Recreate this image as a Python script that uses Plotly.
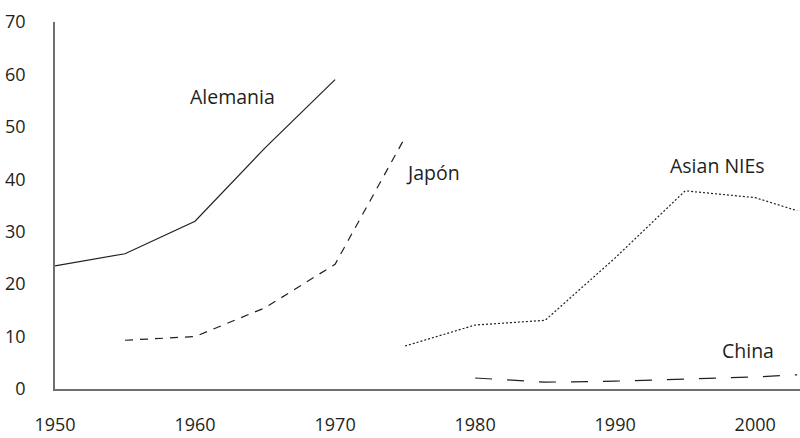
import plotly.graph_objects as go

# Data
alemania_years = [1950, 1955, 1960, 1965, 1970]
alemania_vals = [23.5, 25.8, 32.0, 46.0, 59.0]

japon_years = [1955, 1960, 1965, 1970, 1975]
japon_vals = [9.3, 10.0, 15.5, 23.8, 48.0]

nies_years = [1975, 1980, 1985, 1990, 1995, 2000, 2003]
nies_vals = [8.2, 12.2, 13.1, 25.0, 37.8, 36.5, 34.0]

china_years = [1980, 1985, 1990, 1995, 2000, 2003]
china_vals = [2.1, 1.3, 1.5, 1.9, 2.3, 2.7]

x_ticks = [1950, 1960, 1970, 1980, 1990, 2000]
y_ticks = [0, 10, 20, 30, 40, 50, 60, 70]

labels = [
    ("Alemania", 1962.7, 55.8),
    ("Japón", 1977.0, 41.3),
    ("Asian NIEs", 1997.3, 42.6),
    ("China", 1999.5, 7.4),
]

ink = "#231f20"
font_family = "Open Sans"

fig = go.Figure()
fig.add_trace(go.Scatter(x=alemania_years, y=alemania_vals, mode="lines",
                         line=dict(color=ink, width=1.2, dash="solid"), name="Alemania"))
fig.add_trace(go.Scatter(x=japon_years, y=japon_vals, mode="lines",
                         line=dict(color=ink, width=1.2, dash="8px,7px"), name="Japón"))
fig.add_trace(go.Scatter(x=nies_years, y=nies_vals, mode="lines",
                         line=dict(color=ink, width=1.2, dash="2px,2px"), name="Asian NIEs"))
fig.add_trace(go.Scatter(x=china_years, y=china_vals, mode="lines",
                         line=dict(color=ink, width=1.2, dash="17px,15px"), name="China"))

for text, x, y in labels:
    fig.add_annotation(x=x, y=y, text=text, showarrow=False,
                       font=dict(family=font_family, size=19.5, color=ink),
                       xanchor="center", yanchor="middle")

fig.update_layout(
    width=800, height=438,
    margin=dict(l=55, r=0, t=22, b=49, autoexpand=False),
    paper_bgcolor="white", plot_bgcolor="white",
    showlegend=False,
    font=dict(family=font_family, size=18, color=ink),
)
fig.update_xaxes(range=[1950, 2003.2], tickvals=x_ticks, ticktext=[str(v) for v in x_ticks],
                 showgrid=False, zeroline=False, showline=True, linecolor="#6d6e71",
                 linewidth=1.5, ticks="", ticklabelstandoff=19, automargin=False)
fig.update_yaxes(range=[0, 70], tickvals=y_ticks, ticktext=[str(v) for v in y_ticks],
                 showgrid=False, zeroline=False, showline=True, linecolor="#6d6e71",
                 linewidth=1.5, ticks="", ticklabelstandoff=24, automargin=False)

fig.write_html(
    "out.html",
    config={"displayModeBar": False},
    post_script="document.body.style.margin='0';document.body.style.overflow='hidden';",
)
